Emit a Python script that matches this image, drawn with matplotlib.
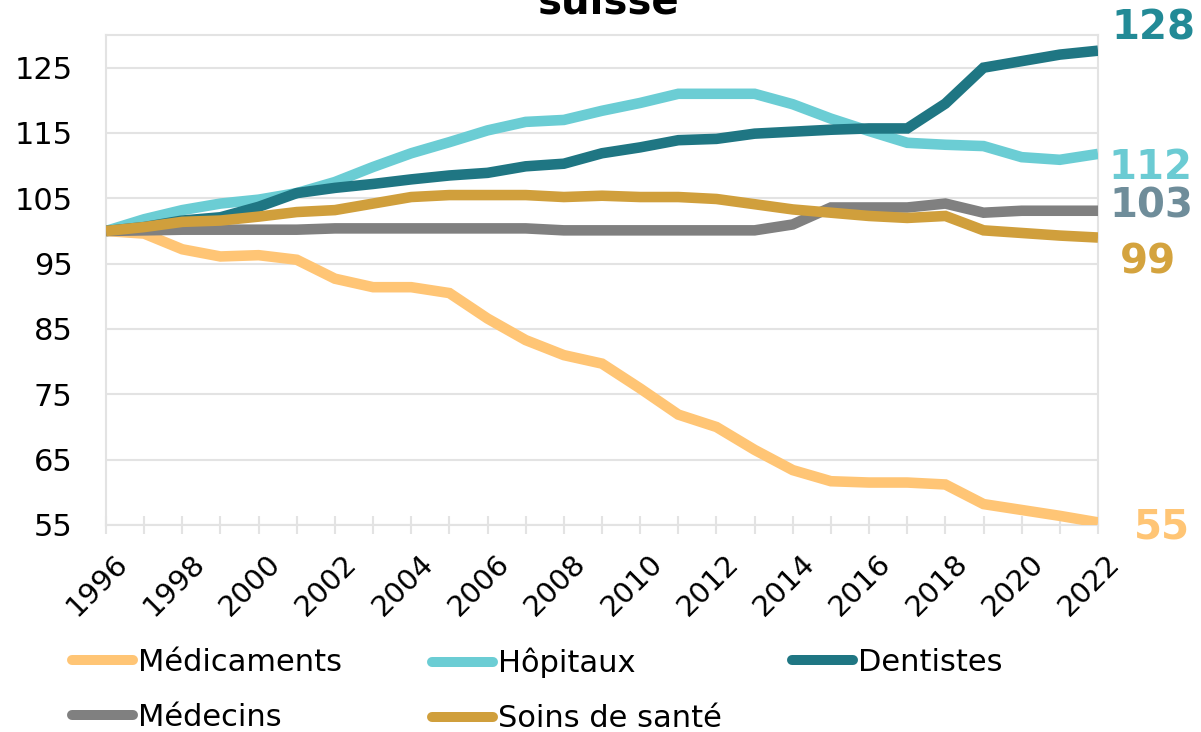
import matplotlib
matplotlib.use("Agg")
import matplotlib.pyplot as plt
import matplotlib.transforms as mtransforms
from matplotlib.lines import Line2D

years = list(range(1996, 2023))

medicaments = [100.0, 99.6, 97.2, 96.1, 96.3, 95.6, 92.7, 91.4, 91.4, 90.5, 86.6, 83.3,
               81.0, 79.7, 75.9, 71.9, 70.0, 66.5, 63.4, 61.7, 61.5, 61.5, 61.2, 58.2,
               57.3, 56.4, 55.4]
hopitaux = [100.0, 101.8, 103.2, 104.2, 104.8, 105.8, 107.5, 109.8, 111.9, 113.6, 115.4, 116.7,
            117.0, 118.4, 119.6, 121.0, 121.0, 121.0, 119.4, 117.2, 115.3, 113.5, 113.2, 113.0,
            111.3, 110.9, 111.8]
dentistes = [100.0, 100.6, 101.6, 102.1, 103.7, 105.8, 106.6, 107.2, 107.9, 108.5, 108.9, 109.9,
             110.3, 111.9, 112.8, 113.9, 114.1, 114.9, 115.2, 115.5, 115.7, 115.7, 119.5, 125.0,
             126.0, 127.0, 127.6]
medecins = [100.0, 100.1, 100.2, 100.2, 100.2, 100.2, 100.4, 100.4, 100.4, 100.4, 100.4, 100.4,
            100.1, 100.1, 100.1, 100.1, 100.1, 100.1, 101.0, 103.6, 103.6, 103.6, 104.2, 102.8,
            103.1, 103.1, 103.1]
soins = [100.0, 100.6, 101.4, 101.6, 102.2, 102.9, 103.2, 104.2, 105.2, 105.5, 105.5, 105.5,
         105.2, 105.4, 105.2, 105.2, 104.9, 104.1, 103.3, 102.8, 102.3, 102.0, 102.3, 100.1,
         99.7, 99.3, 99.0]

series_names = ["Médicaments", "Hôpitaux", "Dentistes", "Médecins", "Soins de santé"]
series_values = [medicaments, hopitaux, dentistes, medecins, soins]
line_colors = ["#FFC575", "#6BCDD4", "#1F7683", "#808080", "#D09F3C"]
label_colors = ["#FFC575", "#6BCBD3", "#228A96", "#6F8D9A", "#D4A33E"]
end_labels = ["55", "112", "128", "103", "99"]
label_offsets = [(64, -5), (52, -14), (55, 22), (53, 4), (50, -25)]

yticks = [55, 65, 75, 85, 95, 105, 115, 125]
xtick_labels = [str(y) for y in range(1996, 2023, 2)]

plt.rcParams['font.family'] = ['DejaVu Sans']
fig = plt.figure(figsize=(12.01, 7.32), dpi=100)
ax = fig.add_axes([106/1201, 1 - 525/732, (1098 - 106)/1201, (525 - 35)/732])

grid_c = "#E3E3E3"
for vals, col in zip(series_values, line_colors):
    ax.plot(years, vals, color=col, lw=7.6, solid_capstyle='butt',
            solid_joinstyle='miter', zorder=3)

ax.set_xlim(1996, 2022)
ax.set_ylim(55, 130)
ax.set_yticks(yticks)
ax.set_yticklabels([str(v) for v in yticks])
ax.set_xticks(list(range(1996, 2023, 2)))
ax.set_xticklabels(xtick_labels, rotation=45, ha='right', va='top', rotation_mode='anchor')
ax.set_xticks(years, minor=True)
ax.grid(axis='y', color=grid_c, lw=1.5, zorder=0)
for s in ax.spines.values():
    s.set_color(grid_c)
    s.set_linewidth(1.5)
ax.tick_params(axis='y', length=0, pad=24, labelsize=22)
ax.tick_params(axis='x', which='both', direction='inout', length=13, width=1.5,
               color=grid_c, labelsize=21, pad=11)
offset = mtransforms.ScaledTranslation(8/100, 0, fig.dpi_scale_trans)
for t in ax.get_xticklabels():
    t.set_transform(t.get_transform() + offset)

for vals, lab, col, (dx, dy) in zip(series_values, end_labels, label_colors, label_offsets):
    ax.annotate(lab, xy=(years[-1], vals[-1]), xytext=(dx, dy), textcoords='offset pixels',
                ha='center', va='center', fontsize=29, fontweight='bold', color=col,
                annotation_clip=False)

fig.text(609/1201, 1 - 14/732, "suisse", ha='center', va='baseline',
         fontsize=29, fontweight='bold', color='black')

# legend in three columns
columns = [[0, 3], [1, 4], [2]]
col_x = [72, 432, 792]
for cx, idxs in zip(col_x, columns):
    handles = [Line2D([0], [0], color=line_colors[i], lw=7.2, solid_capstyle='round')
               for i in idxs]
    labels = [series_names[i] for i in idxs]
    fig.legend(handles, labels, loc='upper left',
               bbox_to_anchor=(cx/1201, 1 - 648/732), frameon=False,
               fontsize=22, handlelength=2.0, handletextpad=0.15,
               labelspacing=0.85, borderpad=0, borderaxespad=0)

fig.savefig("out.png", dpi=100)
